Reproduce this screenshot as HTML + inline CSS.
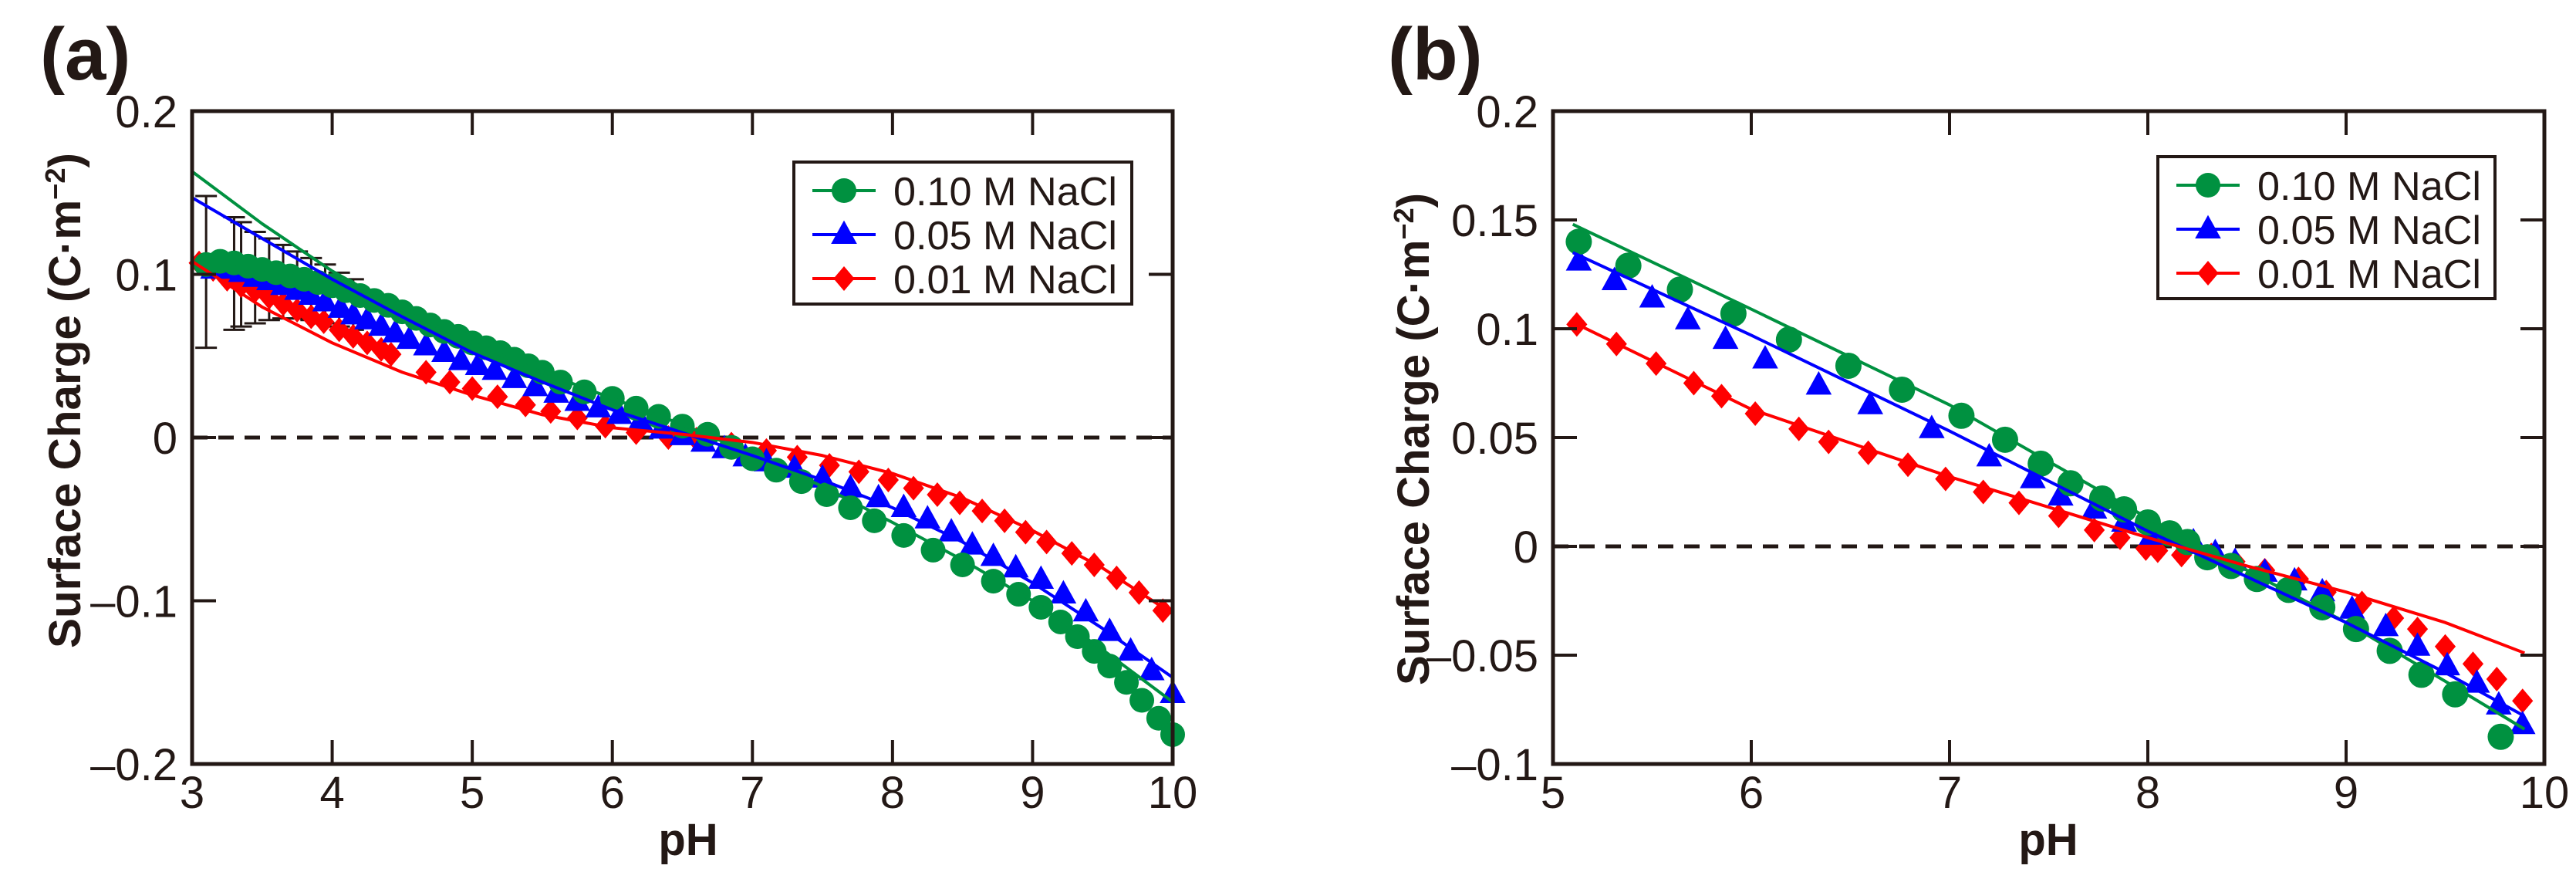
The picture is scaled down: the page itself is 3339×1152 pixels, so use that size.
<!DOCTYPE html>
<html><head><meta charset="utf-8"><style>
html,body{margin:0;padding:0;background:#fff;}
svg{display:block;font-family:"Liberation Sans",sans-serif;}
</style></head><body>
<svg id="fig" width="3339" height="1152" viewBox="0 0 3339 1152" xmlns="http://www.w3.org/2000/svg">
<rect x="0" y="0" width="3339" height="1152" fill="#fff"/>
</svg>
<script>
// ---------- Panel (a) data ----------
const aGreenX=[3.10,3.20,3.30,3.40,3.50,3.60,3.70,3.80,3.90,4.00,4.10,4.20,4.30,4.40,4.50,4.60,4.70,4.80,4.90,5.00,5.10,5.20,5.30,5.40,5.50,5.63,5.80,6.00,6.17,6.33,6.50,6.68,6.85,7.00,7.17,7.35,7.53,7.70,7.87,8.08,8.29,8.50,8.72,8.90,9.06,9.20,9.32,9.44,9.55,9.67,9.78,9.90,10.0];
const aGreenY=[.106,.108,.107,.105,.103,.101,.099,.097,.095,.093,.090,.087,.084,.081,.077,.073,.069,.065,.062,.058,.055,.052,.048,.044,.040,.034,.028,.024,.018,.013,.007,.002,-.006,-.013,-.020,-.027,-.035,-.043,-.051,-.060,-.069,-.078,-.088,-.096,-.104,-.113,-.122,-.131,-.140,-.150,-.161,-.172,-.182];
const aBlueX=[3.15,3.25,3.35,3.45,3.55,3.65,3.75,3.85,3.95,4.06,4.15,4.25,4.35,4.45,4.55,4.67,4.80,4.92,5.04,5.16,5.30,5.45,5.60,5.75,5.90,6.05,6.20,6.35,6.50,6.65,6.80,6.95,7.10,7.30,7.50,7.70,7.90,8.08,8.25,8.42,8.57,8.72,8.88,9.06,9.22,9.38,9.55,9.70,9.85,10.0];
const aBlueY=[.103,.103,.101,.098,.096,.093,.090,.087,.083,.079,.075,.072,.068,.064,.060,.056,.052,.047,.044,.041,.036,.031,.027,.022,.018,.014,.010,.005,.001,-.003,-.007,-.012,-.015,-.019,-.025,-.031,-.037,-.043,-.050,-.058,-.066,-.073,-.080,-.087,-.096,-.107,-.119,-.131,-.143,-.157];
const aRedX=[3.05,3.15,3.25,3.35,3.45,3.55,3.65,3.75,3.85,3.94,4.05,4.15,4.25,4.35,4.42,4.67,4.84,5.00,5.18,5.38,5.56,5.75,5.95,6.17,6.40,6.60,6.85,7.10,7.32,7.55,7.76,7.97,8.15,8.32,8.48,8.64,8.80,8.95,9.10,9.28,9.44,9.60,9.76,9.93];
const aRedY=[.107,.103,.097,.093,.090,.086,.082,.078,.074,.071,.066,.062,.058,.054,.051,.040,.034,.030,.025,.020,.016,.012,.007,.003,.000,-.001,-.004,-.008,-.012,-.017,-.021,-.026,-.031,-.035,-.040,-.045,-.051,-.058,-.064,-.071,-.078,-.086,-.095,-.106];
const aErrX=[3.10,3.30,3.35,3.45,3.55,3.65,3.75,3.85,3.95,4.05,4.15];
const aErrHi=[.148,.135,.132,.126,.122,.118,.114,.110,.106,.101,.097];
const aErrLo=[.055,.066,.068,.070,.072,.073,.073,.072,.070,.068,.066];
const aFitX=[3,3.5,4,4.5,5,5.5,6,6.5,7,7.5,8,8.5,9,9.5,10];
const aFitGreen=[.163,.131,.102,.078,.058,.040,.024,.008,-.010,-.030,-.052,-.075,-.100,-.130,-.162];
const aFitBlue=[.147,.122,.097,.074,.052,.034,.017,.003,-.011,-.026,-.043,-.064,-.089,-.117,-.147];
const aFitRed=[.108,.080,.058,.040,.026,.014,.006,.002,-.003,-.011,-.022,-.037,-.057,-.080,-.108];
const aXTicks=[3,4,5,6,7,8,9,10];
const aYTicks=[0.2,0.1,0,-0.1,-0.2];
const aYTickLabels=["0.2","0.1","0","\u20130.1","\u20130.2"];

// ---------- Panel (b) data ----------
const bGreenX=[5.13,5.38,5.64,5.91,6.19,6.49,6.76,7.06,7.28,7.46,7.61,7.77,7.88,8.00,8.11,8.20,8.30,8.42,8.55,8.71,8.88,9.05,9.22,9.38,9.55,9.78];
const bGreenY=[.140,.129,.118,.107,.095,.083,.072,.060,.049,.038,.029,.022,.017,.011,.006,.002,-.005,-.009,-.015,-.020,-.028,-.038,-.048,-.059,-.068,-.0875];
const bBlueX=[5.13,5.31,5.50,5.68,5.87,6.07,6.34,6.60,6.91,7.20,7.42,7.56,7.73,7.88,8.02,8.23,8.34,8.44,8.59,8.74,8.88,9.03,9.20,9.36,9.51,9.66,9.77,9.89];
const bBlueY=[.131,.122,.114,.104,.095,.086,.074,.065,.054,.041,.031,.023,.017,.011,.005,.002,-.003,-.007,-.012,-.016,-.021,-.029,-.037,-.046,-.055,-.063,-.073,-.082];
const bRedX=[5.12,5.32,5.52,5.71,5.85,6.02,6.24,6.39,6.59,6.79,6.98,7.17,7.35,7.55,7.73,7.86,7.99,8.05,8.17,8.32,8.44,8.59,8.76,8.90,9.08,9.24,9.36,9.50,9.64,9.76,9.89];
const bRedY=[.102,.093,.084,.075,.069,.061,.054,.048,.043,.0375,.031,.025,.020,.014,.0075,.004,-.001,-.002,-.004,-.004,-.007,-.011,-.015,-.021,-.026,-.033,-.038,-.046,-.054,-.061,-.071];
const bFitX=[5.1,6,7,8,8.5,9,9.5,9.9];
const bFitGreen=[.148,.109,.065,.013,-.011,-.035,-.062,-.084];
const bFitBlue=[.135,.097,.053,.007,-.014,-.035,-.058,-.078];
const bFitRed=[.103,.063,.032,.004,-.009,-.021,-.035,-.049];
const bXTicks=[5,6,7,8,9,10];
const bYTicks=[0.2,0.15,0.1,0.05,0,-0.05,-0.1];
const bYTickLabels=["0.2","0.15","0.1","0.05","0","\u20130.05","\u20130.1"];

const legendLabels=["0.10 M NaCl","0.05 M NaCl","0.01 M NaCl"];
const GREEN="#009140",BLUE="#0000ff",RED="#ff0000",INK="#231815";
const NS="http://www.w3.org/2000/svg";
const svg=document.getElementById('fig');
function mk(tag,attrs,parent){const e=document.createElementNS(NS,tag);for(const k in attrs)e.setAttribute(k,attrs[k]);(parent||svg).appendChild(e);return e;}

function marker(g,type,cx,cy,color,s){
  let e;
  if(type==='circle'){e=mk('circle',{cx:cx,cy:cy,r:s,fill:color},g);}
  else if(type==='tri'){e=mk('polygon',{points:`${cx},${cy-s*1.15} ${cx-s*1.05},${cy+s*0.75} ${cx+s*1.05},${cy+s*0.75}`,fill:color},g);}
  else {e=mk('polygon',{points:`${cx},${cy-s} ${cx+s*0.85},${cy} ${cx},${cy+s} ${cx-s*0.85},${cy}`,fill:color},g);}
  return e;
}

function panel(cfg){
  const {L,R,T,B,x0,x1,y0,y1,prefix}=cfg;
  const sx=v=>L+(v-x0)/(x1-x0)*(R-L);
  const sy=v=>B-(v-y0)/(y1-y0)*(B-T);
  const g=mk('g',{});
  
  
  // zero line
  const z=mk('line',{x1:L,x2:R,y1:sy(0),y2:sy(0),stroke:INK,'stroke-width':5,'stroke-dasharray':'20 14'},g);
  
  
  // fit lines
  const fits=[[cfg.fitGreen,GREEN,'fit-line-0-10m'],[cfg.fitBlue,BLUE,'fit-line-0-05m'],[cfg.fitRed,RED,'fit-line-0-01m']];
  // error bars
  if(cfg.errX){
    const eg=mk('g',{stroke:INK,'stroke-width':3,fill:'none'},g);
    
    
    cfg.errX.forEach((x,i)=>{
      const X=sx(x);
      mk('line',{x1:X,x2:X,y1:sy(cfg.errHi[i]),y2:sy(cfg.errLo[i])},eg);
      mk('line',{x1:X-14,x2:X+14,y1:sy(cfg.errHi[i]),y2:sy(cfg.errHi[i])},eg);
      mk('line',{x1:X-14,x2:X+14,y1:sy(cfg.errLo[i]),y2:sy(cfg.errLo[i])},eg);
    });
  }
  // data series
  const series=[[cfg.redX,cfg.redY,RED,'diamond','series-0-01m',16],[cfg.blueX,cfg.blueY,BLUE,'tri','series-0-05m',16],[cfg.greenX,cfg.greenY,GREEN,'circle','series-0-10m',cfg.r]];
  series.forEach(s=>{
    const sg=mk('g',{},g);
    
    
    s[0].forEach((x,i)=>{
      const m=marker(sg,s[3],sx(x),sy(s[1][i]),s[2],s[5]);
      
      
    });
  });
  fits.forEach(f=>{
    const pts=cfg.fitX.map((x,i)=>sx(x)+','+sy(f[0][i])).join(' ');
    const p=mk('polyline',{points:pts,fill:'none',stroke:f[1],'stroke-width':4,'stroke-linejoin':'round'},g);
    
    
  });
  // frame
  const fr=mk('rect',{x:L,y:T,width:R-L,height:B-T,fill:'none',stroke:INK,'stroke-width':5},g);
  
  
  // ticks
  const tg=mk('g',{stroke:INK,'stroke-width':4},g);
  
  
  cfg.xTicks.forEach(t=>{const X=sx(t);mk('line',{x1:X,x2:X,y1:B,y2:B-31},tg);mk('line',{x1:X,x2:X,y1:T,y2:T+31},tg);});
  cfg.yTicks.forEach(t=>{const Y=sy(t);mk('line',{x1:L,x2:L+31,y1:Y,y2:Y},tg);mk('line',{x1:R,x2:R-31,y1:Y,y2:Y},tg);});
  // tick labels
  cfg.xTicks.forEach(t=>{
    const e=mk('text',{x:sx(t),y:1047,'font-size':58,'text-anchor':'middle',fill:INK},g);
    e.textContent=String(t);
    
    
  });
  cfg.yTicks.forEach((t,i)=>{
    const e=mk('text',{x:L-19,y:sy(t)+21,'font-size':58,'text-anchor':'end',fill:INK},g);
    e.textContent=cfg.yTickLabels[i];
    
    
  });
  // axis titles
  const xt=mk('text',{x:cfg.xTitleX,y:1108,'font-size':58,'font-weight':'bold','text-anchor':'middle',fill:INK},g);
  xt.textContent='pH';
  
  
  const yt=mk('text',{x:0,y:0,'font-size':58,'font-weight':'bold','text-anchor':'middle',fill:INK,textLength:cfg.yTitleLen,lengthAdjust:'spacingAndGlyphs',transform:`translate(${cfg.yTitleX},${cfg.yTitleY}) rotate(-90)`},g);
  yt.innerHTML='Surface Charge (C·m<tspan baseline-shift="super" font-size="36">\u22122</tspan>)';
  
  
  // panel label
  const pl=mk('text',{x:cfg.labelX,y:103,'font-size':96,'font-weight':'bold',fill:INK},g);
  pl.textContent=cfg.label;
  
  
  // legend
  const lg=mk('g',{},g);
  
  
  mk('rect',{x:cfg.legX,y:cfg.legY,width:cfg.legW,height:cfg.legH,fill:'#fff',stroke:INK,'stroke-width':4},lg);
  const cols=[GREEN,BLUE,RED],types=['circle','tri','diamond'];
  legendLabels.forEach((lab,i)=>{
    const cy=cfg.legY+37+i*57;
    const eg=mk('g',{},lg);
    
    
    mk('line',{x1:cfg.legX+24,x2:cfg.legX+106,y1:cy,y2:cy,stroke:cols[i],'stroke-width':4},eg);
    marker(eg,types[i],cfg.legX+65,cy,cols[i],types[i]==='circle'?16:16);
    const t=mk('text',{x:cfg.legX+129,y:cy+19,'font-size':52,fill:INK,textLength:290,lengthAdjust:'spacingAndGlyphs'},eg);
    t.textContent=lab;
  });
}

panel({prefix:'panel-a',L:249,R:1520,T:144,B:990,x0:3,x1:10,y0:-0.2,y1:0.2,
  greenX:aGreenX,greenY:aGreenY,blueX:aBlueX,blueY:aBlueY,redX:aRedX,redY:aRedY,r:16,
  errX:aErrX,errHi:aErrHi,errLo:aErrLo,
  fitX:aFitX,fitGreen:aFitGreen,fitBlue:aFitBlue,fitRed:aFitRed,
  xTicks:aXTicks,yTicks:aYTicks,yTickLabels:aYTickLabels,
  xTitleX:892,yTitleX:104,yTitleY:519,yTitleLen:642,labelX:52,label:'(a)',
  legX:1029,legY:210,legW:438,legH:184});

panel({prefix:'panel-b',L:2013,R:3298,T:144,B:990,x0:5,x1:10,y0:-0.1,y1:0.2,
  greenX:bGreenX,greenY:bGreenY,blueX:bBlueX,blueY:bBlueY,redX:bRedX,redY:bRedY,r:17,
  fitX:bFitX,fitGreen:bFitGreen,fitBlue:bFitBlue,fitRed:bFitRed,
  xTicks:bXTicks,yTicks:bYTicks,yTickLabels:bYTickLabels,
  xTitleX:2655,yTitleX:1852,yTitleY:569,yTitleLen:638,labelX:1799,label:'(b)',
  legX:2797,legY:203,legW:437,legH:184});
</script>
</body></html>
